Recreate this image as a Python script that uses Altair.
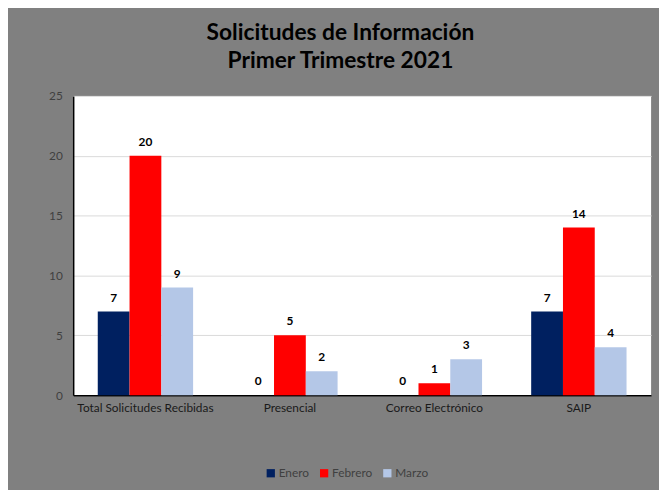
import altair as alt
import pandas as pd

categories = ["Total Solicitudes Recibidas", "Presencial", "Correo Electrónico", "SAIP"]
months = ["Enero", "Febrero", "Marzo"]
enero = [7, 0, 0, 7]
febrero = [20, 5, 1, 14]
marzo = [9, 2, 3, 4]
colors = ["#002060", "#FF0000", "#B4C7E7"]

rows = []
for i, c in enumerate(categories):
    for m, vals in zip(months, [enero, febrero, marzo]):
        rows.append({"Categoria": c, "Mes": m, "Valor": vals[i]})
df = pd.DataFrame(rows)

FONT = "Lato"

x = alt.X("Categoria:N", sort=categories, title=None,
          scale=alt.Scale(paddingInner=0.34, paddingOuter=0.17),
          axis=alt.Axis(labelAngle=0, ticks=False, domainColor="#000000", domainWidth=1.5,
                        labelColor="#1a1a1a", labelFontSize=12, labelFont=FONT, labelPadding=8,
                        grid=False))
xo = alt.XOffset("Mes:N", sort=months, scale=alt.Scale(paddingInner=0, paddingOuter=0))
y = alt.Y("Valor:Q", title=None,
          scale=alt.Scale(domain=[0, 25]),
          axis=alt.Axis(values=[0, 5, 10, 15, 20, 25], ticks=False, domainColor="#000000", domainWidth=1.5,
                        labelColor="#404040", labelFontSize=12, labelFont=FONT, labelPadding=11,
                        gridColor="#d9d9d9", gridWidth=1))

bars = alt.Chart(df).mark_bar().encode(
    x=x, xOffset=xo, y=y,
    color=alt.Color("Mes:N", sort=months, scale=alt.Scale(domain=months, range=colors),
                    legend=alt.Legend(title=None, orient="none", direction="horizontal",
                                      legendX=194, legendY=376, symbolType="square",
                                      symbolSize=70, symbolStrokeWidth=0, labelFontSize=12,
                                      labelFont=FONT, labelColor="#404040", columnPadding=9,
                                      labelOffset=2)),
)

labels = alt.Chart(df).mark_text(baseline="bottom", dy=-7, fontWeight="bold", fontSize=12,
                                 font=FONT, color="#000000").encode(
    x=x, xOffset=xo, y=y, text="Valor:Q"
)

chart = alt.layer(bars, labels).properties(
    width=585, height=303,
    autosize=alt.AutoSizeParams(type="none"),
    padding={"left": 66, "top": 86, "right": 8, "bottom": 93},
    background="#808080",
    title=alt.Title(["Solicitudes de Información", "Primer Trimestre 2021"], font=FONT,
                    fontSize=23, fontWeight="bold", color="#000000", anchor="middle",
                    dx=-22, offset=17, lineHeight=29),
).configure_view(fill="#FFFFFF", stroke=None)

chart.save("out.html", embed_options={"renderer": "svg", "actions": False})
